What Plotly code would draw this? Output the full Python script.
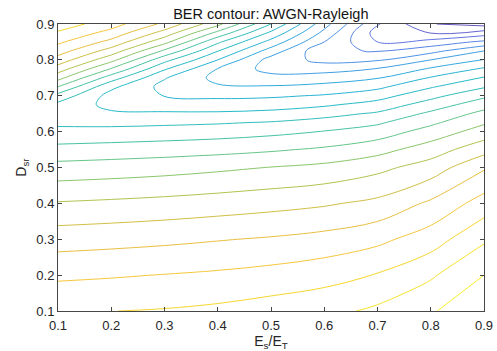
import plotly.graph_objects as go

# Grid coordinates (E_s/E_T along x, D_sr along y)
es_et = [0.1, 0.2, 0.3, 0.4, 0.5, 0.6, 0.7, 0.8, 0.9]
d_sr = [0.1, 0.2, 0.3, 0.4, 0.5, 0.55, 0.6, 0.625, 0.65, 0.675, 0.7,
        0.725, 0.75, 0.775, 0.8, 0.825, 0.85, 0.875, 0.9]

# Estimated BER level field (one row per D_sr value)
ber_level = [
    [17.93, 17.99, 18.07, 18.22, 18.47, 18.70, 19.20, 19.86, 21.00],
    [16.81, 16.91, 17.03, 17.16, 17.35, 17.63, 18.06, 18.86, 20.00],
    [15.56, 15.66, 15.78, 15.94, 16.10, 16.33, 16.75, 17.51, 18.85],
    [14.08, 14.19, 14.32, 14.48, 14.66, 14.88, 15.24, 16.18, 17.43],
    [12.35, 12.46, 12.60, 12.80, 13.03, 13.26, 13.73, 14.45, 15.88],
    [11.33, 11.43, 11.54, 11.67, 11.87, 12.15, 12.64, 13.50, 14.62],
    [10.24, 10.32, 10.42, 10.54, 10.74, 11.04, 11.47, 12.40, 13.43],
    [9.82, 9.74, 9.81, 9.91, 10.08, 10.39, 10.86, 11.80, 12.88],
    [9.49, 9.16, 9.14, 9.15, 9.29, 9.67, 10.14, 11.21, 12.29],
    [9.74, 8.71, 8.52, 8.46, 8.56, 8.85, 9.39, 10.45, 11.59],
    [10.65, 8.63, 7.97, 7.79, 7.85, 8.09, 8.60, 9.69, 10.79],
    [12.00, 9.23, 7.69, 7.13, 7.09, 7.31, 7.77, 8.90, 9.90],
    [13.35, 10.50, 8.08, 6.70, 6.37, 6.50, 6.93, 8.07, 9.08],
    [14.52, 11.94, 9.13, 6.97, 5.60, 5.60, 6.04, 7.12, 8.13],
    [15.58, 13.32, 10.33, 8.00, 5.60, 4.70, 4.88, 6.00, 7.04],
    [16.45, 14.57, 11.82, 9.04, 6.57, 4.18, 3.93, 4.65, 6.00],
    [17.19, 15.70, 13.32, 10.19, 7.65, 5.00, 3.00, 3.37, 4.21],
    [17.86, 16.64, 14.60, 11.70, 8.77, 5.71, 2.55, 1.96, 2.47],
    [18.57, 17.43, 15.77, 13.30, 10.00, 6.40, 3.10, 1.05, 0.60],
]

level_start = 1
level_end = 20
level_step = 1

tick_vals = [0.1, 0.2, 0.3, 0.4, 0.5, 0.6, 0.7, 0.8, 0.9]
tick_text = ["0.1", "0.2", "0.3", "0.4", "0.5", "0.6", "0.7", "0.8", "0.9"]

parula = [
    [0.00, "rgb(100,85,190)"],
    [0.10, "rgb(100,115,225)"],
    [0.20, "rgb(80,145,230)"],
    [0.30, "rgb(55,168,225)"],
    [0.40, "rgb(35,186,205)"],
    [0.50, "rgb(55,192,180)"],
    [0.60, "rgb(115,200,125)"],
    [0.68, "rgb(175,196,80)"],
    [0.75, "rgb(218,190,66)"],
    [0.82, "rgb(245,192,66)"],
    [0.90, "rgb(246,216,46)"],
    [1.00, "rgb(245,240,40)"],
]

FONT = "Liberation Sans, Arial, sans-serif"

fig = go.Figure(
    go.Contour(
        x=es_et,
        y=d_sr,
        z=ber_level,
        zmin=0.6,
        zmax=21.0,
        colorscale=parula,
        showscale=False,
        contours=dict(coloring="lines", start=level_start, end=level_end, size=level_step),
        line=dict(width=1, smoothing=1),
        hoverinfo="skip",
    )
)

axis_common = dict(
    tickvals=tick_vals,
    ticktext=tick_text,
    ticks="inside",
    ticklen=4,
    tickcolor="rgb(70,70,70)",
    showline=True,
    linecolor="rgb(70,70,70)",
    linewidth=1,
    mirror="ticks",
    showgrid=False,
    zeroline=False,
    automargin=False,
    tickfont=dict(family=FONT, size=13, color="rgb(38,38,38)"),
)

fig.update_xaxes(range=[0.1, 0.9], ticklabelstandoff=2, **axis_common,
                 title=dict(text="E<sub>s</sub>/E<sub>T</sub>", standoff=4,
                            font=dict(family=FONT, size=14, color="rgb(38,38,38)")))
fig.update_yaxes(range=[0.1, 0.9], **axis_common,
                 title=dict(text="D<sub>sr</sub>", standoff=6,
                            font=dict(family=FONT, size=14, color="rgb(38,38,38)")))

fig.update_layout(
    width=497,
    height=351,
    margin=dict(l=58, r=13, t=24, b=40),
    plot_bgcolor="white",
    paper_bgcolor="white",
    title=dict(text="BER contour: AWGN-Rayleigh", x=0.545, xanchor="center", y=0.96, yanchor="middle",
               font=dict(family=FONT, size=14.5, color="rgb(20,20,20)")),
)

fig.write_html("out.html")
